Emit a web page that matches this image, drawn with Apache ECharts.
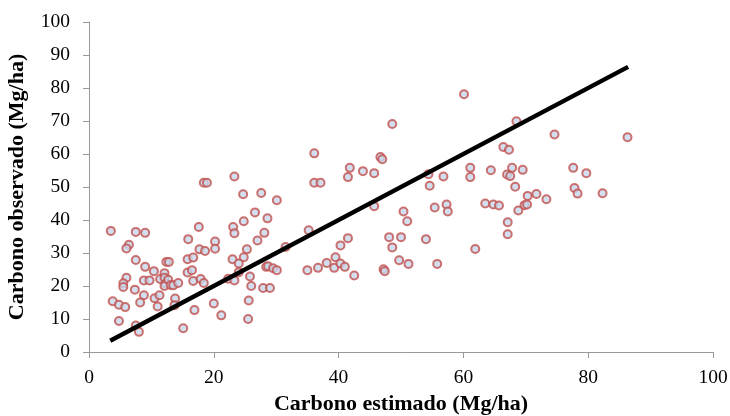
<!DOCTYPE html>
<html>
<head>
<meta charset="utf-8">
<script src="https://cdn.jsdelivr.net/npm/echarts@6/dist/echarts.min.js"></script>
<style>html,body{margin:0;padding:0;background:#fff}#c{width:730px;height:416px}</style>
</head>
<body>
<div id="c"></div>
<script>
const xTitle = 'Carbono estimado (Mg/ha)';
const yTitle = 'Carbono observado (Mg/ha)';
const xTicks = [0, 20, 40, 60, 80, 100];
const yTicks = [0, 10, 20, 30, 40, 50, 60, 70, 80, 90, 100];
const estimado = [
 3.5,7.5,9.0,6.4,6.0,7.5,9.0,10.4,6.0,5.5,5.5,8.8,9.7,7.35,8.8,8.2,3.8,4.8,5.8,4.8,7.5,8.0,10.5,11.3,11.0,11.4,
 12.1,12.1,12.3,12.1,12.7,13.1,13.5,14.3,12.4,12.8,13.8,13.7,15.1,15.9,17.6,17.7,18.6,20.2,20.2,15.8,16.7,15.8,16.5,
 16.7,17.9,18.4,16.9,20.0,21.2,18.4,18.9,
 23.3,24.7,27.6,30.1,26.6,28.6,24.8,23.1,23.3,28.1,27.0,25.3,23.0,24.8,24.0,24.0,22.3,23.3,25.8,26.0,27.9,29.0,
 28.4,28.7,29.5,30.1,31.5,25.6,25.5,36.1,36.1,37.1,35.2,35.0,36.7,38.1,39.5,39.3,40.3,41.0,42.5,40.3,41.5,41.8,
 41.5,43.9,45.7,46.7,47.0,45.7,47.2,47.4,
 60.1,48.6,68.5,66.4,67.3,61.1,61.1,64.4,67.8,69.5,67.0,67.5,68.3,54.4,56.8,54.6,70.3,71.7,73.3,69.8,70.2,68.8,
 63.5,64.8,65.7,67.1,67.1,55.4,57.3,57.5,50.4,51.0,48.1,50.0,48.6,54.0,61.9,49.7,51.2,55.8,
 74.6,86.3,77.6,79.7,77.8,78.3,82.3
];
const observado = [
 36.7,36.4,36.1,32.5,31.4,27.9,25.8,24.5,22.5,20.8,19.7,21.7,21.7,18.9,17.2,15.0,15.4,14.3,13.6,9.4,8.0,6.1,16.3,17.2,13.8,22.1,
 23.9,22.5,20.7,20.0,21.9,20.3,20.2,20.9,27.3,27.3,16.2,14.2,7.2,34.2,37.9,31.1,30.6,33.5,31.3,28.1,28.6,24.1,24.8,
 21.5,22.1,20.9,12.7,14.7,11.1,51.3,51.3,
 53.2,47.8,48.2,46.0,42.3,40.5,39.6,37.9,36.0,36.1,33.8,31.1,28.1,28.7,26.8,24.2,22.2,21.7,22.9,20.0,19.4,19.4,
 25.8,26.0,25.4,24.8,31.8,15.6,10.0,60.2,51.3,51.3,36.9,24.8,25.5,27.0,28.7,25.5,26.8,25.8,23.2,32.3,34.5,55.8,
 53.0,54.8,54.2,59.1,58.4,44.2,25.1,24.5,
 78.1,69.1,69.9,62.1,61.3,55.8,53.0,55.1,55.8,55.2,53.8,53.3,50.1,53.9,53.2,50.4,47.3,47.9,46.3,44.5,44.7,42.9,
 45.0,44.7,44.4,39.3,35.7,43.8,44.7,42.6,42.6,39.6,34.8,34.8,31.7,34.2,31.2,27.8,26.7,26.7,
 65.9,65.1,55.8,54.2,49.7,48.0,48.1
];
const lineStart = 3.4;
const lineEnd = 86.4;

const pts = estimado.map((x, i) => [x, observado[i]]);
const font = 'Liberation Serif, Times New Roman, serif';
const axisCommon = {
  type: 'value',
  splitLine: { show: false },
  axisLine: { show: true, lineStyle: { color: '#999999', width: 1 } },
  axisTick: { show: true, length: 6, lineStyle: { color: '#999999' } },
  nameLocation: 'middle',
  nameTextStyle: { fontFamily: font, fontWeight: 'bold', fontSize: 22, color: '#000' },
  axisLabel: { fontFamily: font, fontSize: 19.5, color: '#000' }
};
const chart = echarts.init(document.getElementById('c'), null, { renderer: 'canvas' });
chart.setOption({
  animation: false,
  backgroundColor: '#fff',
  grid: { left: 89, right: 17, top: 22, bottom: 64, containLabel: false, outerBoundsMode: 'none' },
  xAxis: Object.assign({}, axisCommon, {
    min: xTicks[0], max: xTicks[xTicks.length - 1], interval: 20,
    name: xTitle, nameGap: 41,
    axisLabel: Object.assign({}, axisCommon.axisLabel, { margin: 16 })
  }),
  yAxis: Object.assign({}, axisCommon, {
    min: yTicks[0], max: yTicks[yTicks.length - 1], interval: 10,
    name: yTitle, nameGap: 61,
    axisLabel: Object.assign({}, axisCommon.axisLabel, { margin: 19 })
  }),
  series: [
    {
      type: 'scatter',
      data: pts,
      symbol: 'circle',
      symbolSize: 8,
      itemStyle: { color: '#c8d6ea', borderColor: '#c0504d', borderWidth: 2 },
      z: 2
    },
    {
      type: 'line',
      data: [[lineStart, lineStart], [lineEnd, lineEnd]],
      showSymbol: false,
      symbol: 'none',
      lineStyle: { color: '#000', width: 4.5 },
      z: 3
    }
  ]
});
</script>
</body>
</html>
